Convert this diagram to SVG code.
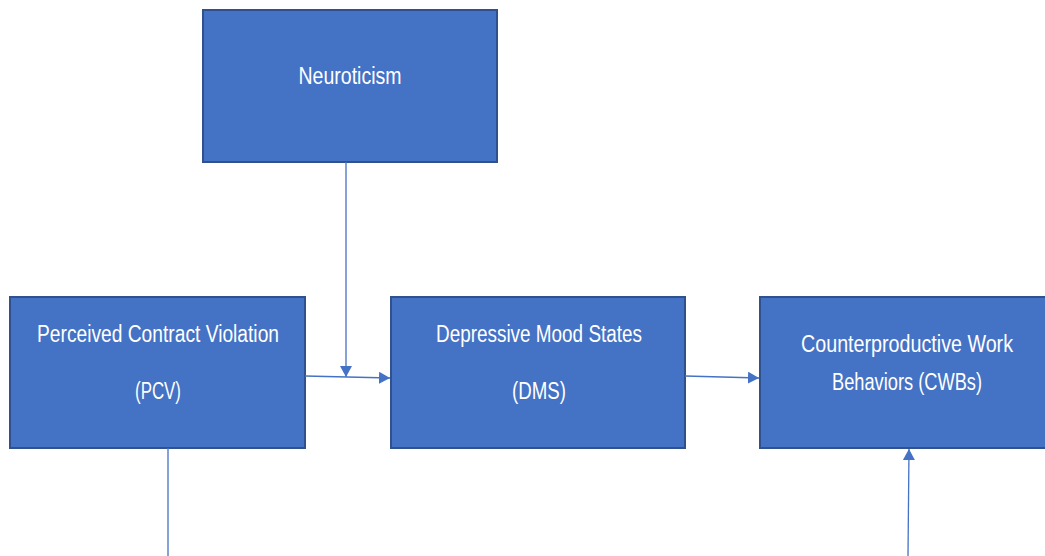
<svg xmlns="http://www.w3.org/2000/svg" width="1045" height="556" viewBox="0 0 1045 556">
<style>
.box{fill:#4472C4;stroke:#2F528F;stroke-width:2}
.t{font-family:"Liberation Sans",Arial,sans-serif;font-size:23px;fill:#ffffff;text-anchor:middle}
.c{stroke:#4472C4;stroke-width:1.3;fill:none}
</style>
<defs>
<marker id="ah" markerWidth="12" markerHeight="12" refX="11" refY="6" orient="auto" markerUnits="userSpaceOnUse">
<path d="M0,0 L11,6 L0,12 Z" fill="#4472C4"/>
</marker>
</defs>
<rect width="1045" height="556" fill="#ffffff"/>
<g id="neuroticism"><rect class="box" x="203" y="10" width="294" height="152"/><text class="t" x="350" y="84" textLength="103" lengthAdjust="spacingAndGlyphs">Neuroticism</text></g>
<g id="pcv"><rect class="box" x="10" y="297" width="295" height="151"/><text class="t" x="158" y="342" textLength="242" lengthAdjust="spacingAndGlyphs">Perceived Contract Violation</text><text class="t" x="158" y="399" textLength="46" lengthAdjust="spacingAndGlyphs">(PCV)</text></g>
<g id="dms"><rect class="box" x="391" y="297" width="294" height="151"/><text class="t" x="539" y="342" textLength="206" lengthAdjust="spacingAndGlyphs">Depressive Mood States</text><text class="t" x="539" y="399" textLength="54" lengthAdjust="spacingAndGlyphs">(DMS)</text></g>
<g id="cwb"><rect class="box" x="760" y="297" width="295" height="151"/><text class="t" x="907" y="352" textLength="212" lengthAdjust="spacingAndGlyphs">Counterproductive Work</text><text class="t" x="907" y="390" textLength="150" lengthAdjust="spacingAndGlyphs">Behaviors (CWBs)</text></g>
<g id="connectors">
<line class="c" x1="346" y1="162" x2="346" y2="377" marker-end="url(#ah)"/>
<line class="c" x1="305" y1="376" x2="390" y2="378" marker-end="url(#ah)"/>
<line class="c" x1="685" y1="376" x2="759" y2="378" marker-end="url(#ah)"/>
<line class="c" x1="168" y1="448" x2="168" y2="556"/>
<line class="c" x1="908" y1="556" x2="909" y2="449" marker-end="url(#ah)"/>
</g>
</svg>
